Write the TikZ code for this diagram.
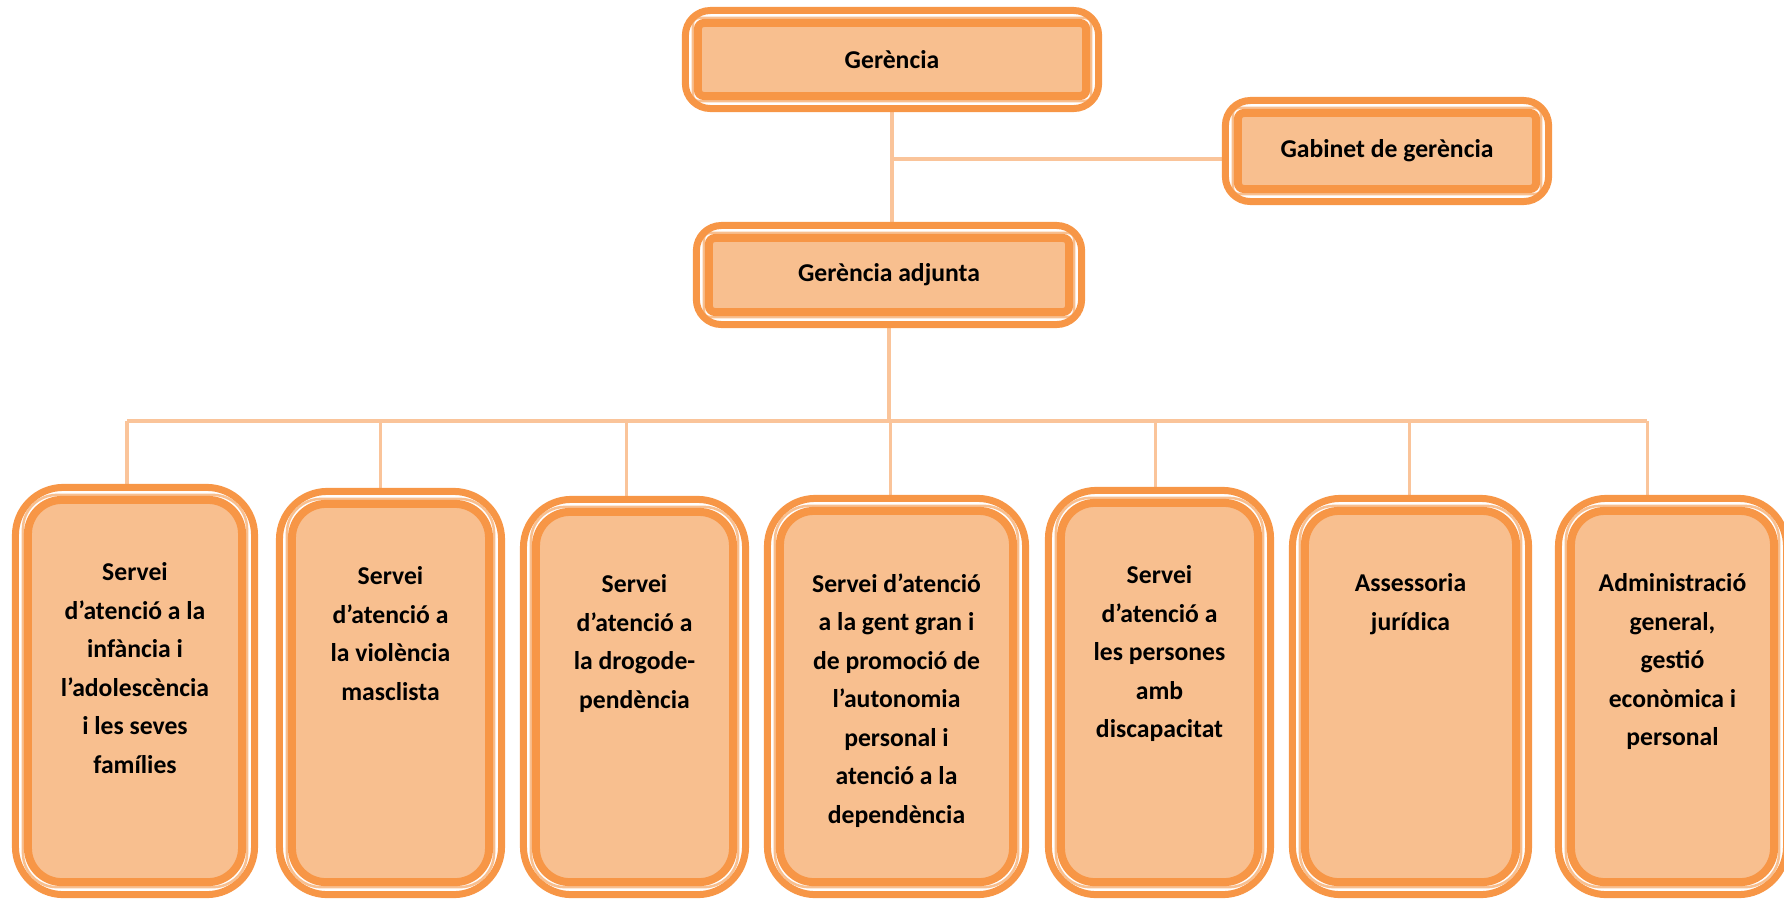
\documentclass[tikz,border=0pt]{standalone}
\usepackage{fontspec}
\setmainfont{Carlito}
\usepackage{tikz}
\usetikzlibrary{positioning, backgrounds, calc}
\definecolor{mOrange}{HTML}{F79646}
\definecolor{mPeach}{HTML}{F8BF8F}
\definecolor{mLink}{HTML}{FAC49A}
\tikzset{
  orgbox/.style n args={2}{draw=mOrange, fill=white, line width=0.07cm, rounded corners=#1, inner sep=0pt,
    path picture={
      \draw[mPeach, line width=0.025cm, rounded corners=#2]
        ([shift={(0.075cm,0.075cm)}]path picture bounding box.south west) rectangle
        ([shift={(-0.075cm,-0.075cm)}]path picture bounding box.north east);
      \draw[mOrange, fill=mPeach, line width=0.08cm, rounded corners=#2]
        ([shift={(0.125cm,0.125cm)}]path picture bounding box.south west) rectangle
        ([shift={(-0.125cm,-0.125cm)}]path picture bounding box.north east);
    }},
  headbox/.style={orgbox={0.25cm}{0.06cm}},
  unitbox/.style={orgbox={0.48cm}{0.34cm}},
  unittext/.style={anchor=north, inner sep=0pt, align=center},
  link/.style={draw=mLink, line width=0.035cm}
}

\begin{document}
\begin{tikzpicture}[x=0.01cm, y=-0.01cm, font=\bfseries\fontsize{7.3pt}{10.95pt}\selectfont]
  \useasboundingbox (0,0) rectangle (1784,899);
  % top of the chart
  \node[headbox, minimum width=4.13cm, minimum height=0.98cm] (ger) at (892,59.5) {Gerència};
  \node[headbox, minimum width=3.23cm, minimum height=1.01cm] (gab) at (1387,151) {Gabinet de gerència};
  \node[headbox, minimum width=3.85cm, minimum height=0.99cm] (adj) at (889,275) {Gerència adjunta};
  % services row
  \foreach \n/\x/\y/\w/\h in {1/135/691/2.39/4.07, 2/390.5/693/2.22/4.03, 3/634.5/697/2.22/3.95,
      4/896.5/696.5/2.58/3.96, 5/1159.5/692.5/2.22/4.04, 6/1410.5/696.5/2.36/3.96, 7/1672.5/696.5/2.28/3.96}
    \node[unitbox, minimum width=\w cm, minimum height=\h cm] (b\n) at (\x,\y) {};
  \node[unittext] (t1) at ([yshift=-0.78cm]b1.north) {Servei\\d’atenció a la\\infància i\\l’adolescència\\i les seves\\famílies};
  \node[unittext] (t2) at ([yshift=-0.78cm]b2.north) {Servei\\d’atenció a\\la violència\\masclista};
  \node[unittext] (t3) at ([yshift=-0.78cm]b3.north) {Servei\\d’atenció a\\la drogode-\\pendència};
  \node[unittext] (t4) at ([yshift=-0.78cm]b4.north) {Servei d’atenció\\a la gent gran i\\de promoció de\\l’autonomia\\personal i\\atenció a la\\dependència};
  \node[unittext] (t5) at ([yshift=-0.78cm]b5.north) {Servei\\d’atenció a\\les persones\\amb\\discapacitat};
  \node[unittext] (t6) at ([yshift=-0.78cm]b6.north) {Assessoria\\jurídica};
  \node[unittext] (t7) at ([yshift=-0.78cm]b7.north) {Administració\\general,\\gestió\\econòmica i\\personal};
  % connectors
  \begin{scope}[on background layer]
    \coordinate (gabjoin) at ($(gab.west)+(0,8)$);
    \coordinate (busL) at (127,421);
    \coordinate (busR) at (1647,421);
    \draw[link] (ger.south) -- (ger.south |- adj.north);
    \draw[link] (ger.south |- gabjoin) -- (gabjoin);
    \draw[link] (adj.south) -- (adj.south |- busL);
    \draw[link] (busL) -- (busR);
    \foreach \n/\dx in {1/-8, 2/-10, 3/-8, 4/-6, 5/-4, 6/-1, 7/-25}{
      \coordinate (s\n) at ($(b\n.north)+(\dx,0)$);
      \draw[link] (s\n) -- (s\n |- busL);}
  \end{scope}
\end{tikzpicture}
\end{document}
